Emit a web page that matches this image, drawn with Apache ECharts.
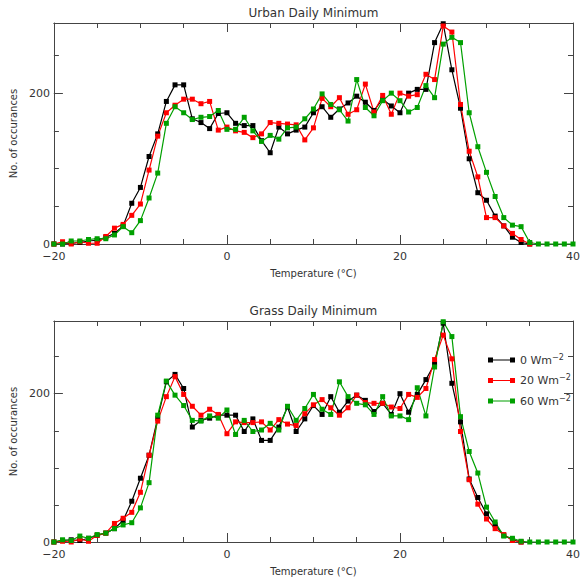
<!DOCTYPE html>
<html>
<head>
<meta charset="utf-8">
<script src="https://cdn.jsdelivr.net/npm/echarts@6/dist/echarts.min.js"></script>
<style>
  html, body { margin: 0; padding: 0; background: #fff; }
  #chart { width: 583px; height: 580px; }
</style>
</head>
<body>
<div id="chart"></div>
<script>
// Temperature bins (°C), one per degree
const temps = [-20, -19, -18, -17, -16, -15, -14, -13, -12, -11, -10, -9, -8, -7, -6, -5, -4, -3, -2, -1,
  0, 1, 2, 3, 4, 5, 6, 7, 8, 9, 10, 11, 12, 13, 14, 15, 16, 17, 18, 19,
  20, 21, 22, 23, 24, 25, 26, 27, 28, 29, 30, 31, 32, 33, 34, 35, 36, 37, 38, 39, 40];

const xTickLabels = ['−20', '0', '20', '40'];
const yTickLabels = ['0', '200'];
const seriesNames = ['0 Wm-2', '20 Wm-2', '60 Wm-2'];
const panelTitles = ['Urban Daily Minimum', 'Grass Daily Minimum'];

// Urban daily minimum counts, starting at -20 °C
const urban0 = [0, 0, 1, 2, 4, 5, 9, 14, 24, 54, 75, 116, 146, 189, 211, 211, 166, 161, 153, 173,
  174, 160, 157, 157, 137, 121, 155, 146, 151, 155, 174, 182, 168, 179, 187, 196, 188, 177, 192, 183,
  174, 200, 205, 205, 267, 292, 231, 180, 113, 68, 58, 37, 24, 9, 2, 0];
const urban20 = [0, 3, 0, 3, 1, 1, 10, 21, 26, 38, 53, 98, 143, 174, 184, 192, 192, 186, 189, 151,
  155, 150, 148, 141, 146, 161, 160, 159, 158, 138, 154, 193, 182, 194, 172, 178, 212, 175, 197, 172,
  200, 196, 198, 225, 218, 289, 281, 185, 123, 89, 35, 35, 24, 14, 6, 0];
const urban60 = [0, 0, 4, 4, 6, 7, 7, 12, 23, 15, 31, 61, 94, 160, 182, 174, 165, 168, 169, 177,
  152, 152, 168, 150, 136, 144, 139, 154, 155, 166, 179, 199, 185, 178, 163, 218, 181, 170, 190, 200,
  190, 175, 181, 210, 194, 265, 274, 267, 174, 129, 95, 63, 35, 25, 23, 2, 0, 0, 0, 0, 0];

// Grass daily minimum counts, starting at -20 °C
const grass0 = [0, 2, 3, 2, 5, 9, 12, 18, 29, 55, 86, 117, 167, 216, 226, 207, 155, 164, 167, 171,
  171, 171, 149, 166, 137, 137, 155, 182, 149, 166, 184, 172, 196, 175, 190, 198, 191, 176, 187, 172,
  200, 175, 199, 219, 240, 295, 214, 162, 85, 60, 38, 23, 9, 3, 0];
const grass20 = [0, 1, 0, 4, 1, 9, 12, 25, 32, 40, 67, 117, 163, 196, 223, 199, 183, 171, 179, 172,
  146, 162, 161, 161, 162, 151, 165, 159, 157, 173, 185, 192, 181, 171, 181, 198, 188, 187, 187, 182,
  180, 199, 195, 207, 246, 279, 247, 149, 84, 51, 31, 18, 10, 2, 0];
const grass60 = [0, 3, 2, 8, 5, 10, 12, 18, 23, 26, 46, 80, 171, 217, 198, 184, 164, 163, 170, 167,
  178, 145, 164, 149, 151, 160, 151, 183, 164, 180, 199, 179, 172, 216, 196, 187, 185, 172, 196, 170,
  170, 165, 208, 170, 236, 297, 277, 169, 122, 93, 47, 27, 8, 5, 1, 0, 0, 0, 0, 0, 0];

const FONT = 'DejaVu Sans';
const TEXT = '#333';
const AXIS = '#444';
const colors = ['#000000', '#ff0000', '#00a000'];

function pairs(values) {
  return values.map((v, i) => [temps[i], v]);
}

function xAxes(grid, title) {
  const common = {
    gridIndex: grid, type: 'value', min: -20, max: 40, interval: 20,
    axisLine: { show: true, onZero: false, lineStyle: { color: AXIS, width: 1 } },
    axisTick: { show: true, inside: true, length: 9, lineStyle: { color: AXIS } },
    minorTick: { show: true, splitNumber: 4, length: 5, lineStyle: { color: AXIS } },
    splitLine: { show: false }
  };
  return [
    Object.assign({}, common, {
      position: 'bottom',
      axisLabel: {
        margin: 7, fontSize: 11, color: TEXT, fontFamily: FONT,
        formatter: v => xTickLabels[Math.round((v + 20) / 20)] || ''
      },
      name: 'Temperature (°C)', nameLocation: 'middle', nameGap: 24,
      nameTextStyle: { fontSize: 10, color: TEXT, fontFamily: FONT }
    }),
    Object.assign({}, common, {
      position: 'top',
      axisLabel: { show: false },
      name: title, nameLocation: 'middle', nameGap: 4,
      nameTextStyle: { fontSize: 12, color: TEXT, fontFamily: FONT }
    })
  ];
}

function yAxes(grid, yMax) {
  const base = { gridIndex: grid, type: 'value', min: 0, max: yMax, splitLine: { show: false } };
  const major = Object.assign({}, base, {
    interval: 200,
    axisTick: { show: true, inside: true, length: 9, lineStyle: { color: AXIS } }
  });
  const minor = Object.assign({}, base, {
    interval: 50,
    axisLine: { show: false, onZero: false },
    axisTick: { show: true, inside: true, length: 5, lineStyle: { color: AXIS } },
    axisLabel: { show: false }
  });
  return [
    Object.assign({}, major, {
      position: 'left',
      axisLine: { show: true, onZero: false, lineStyle: { color: AXIS, width: 1 } },
      axisLabel: {
        margin: 4, fontSize: 11, color: TEXT, fontFamily: FONT,
        formatter: v => (v === 0 ? yTickLabels[0] : (v === 200 ? yTickLabels[1] : ''))
      },
      name: 'No. of occurances', nameLocation: 'middle', nameGap: 31,
      nameTextStyle: { fontSize: 10, color: TEXT, fontFamily: FONT }
    }),
    Object.assign({}, minor, { position: 'left' }),
    Object.assign({}, major, {
      position: 'right',
      axisLine: { show: true, onZero: false, lineStyle: { color: AXIS, width: 1 } },
      axisLabel: { show: false }
    }),
    Object.assign({}, minor, { position: 'right' })
  ];
}

function lineSeries(name, values, color, xi, yi) {
  return {
    name: name, type: 'line', xAxisIndex: xi, yAxisIndex: yi,
    data: pairs(values),
    symbol: 'rect', symbolSize: 5, showAllSymbol: true,
    lineStyle: { color: color, width: 1.2 },
    itemStyle: { color: color },
    emphasis: { disabled: true },
    animation: false
  };
}

const chart = echarts.init(document.getElementById('chart'), null, { renderer: 'svg' });
chart.setOption({
  backgroundColor: '#fff',
  animation: false,
  textStyle: { fontFamily: FONT },
  grid: [
    { left: 53, right: 10, top: 23, height: 221, containLabel: false },
    { left: 53, right: 10, top: 321, height: 221, containLabel: false }
  ],
  xAxis: [].concat(xAxes(0, panelTitles[0]), xAxes(1, panelTitles[1])),
  yAxis: [].concat(yAxes(0, 293), yAxes(1, 298)),
  legend: {
    data: seriesNames, orient: 'vertical', left: 483, top: 348,
    itemWidth: 27, itemHeight: 5, itemGap: 8, selectedMode: false,
    icon: 'path://M0,0h5v5h-5z M22,0h5v5h-5z M0,1.9h27v1.2h-27z',
    formatter: name => '{n|' + name.slice(0, -2) + '}{s|' + name.slice(-2).replace('-', '−') + '}',
    textStyle: {
      rich: {
        n: { fontSize: 11, color: TEXT, fontFamily: FONT, lineHeight: 14 },
        s: { fontSize: 8, color: TEXT, fontFamily: FONT, verticalAlign: 'top', lineHeight: 8 }
      }
    }
  },
  series: [
    lineSeries(seriesNames[0], urban0, colors[0], 0, 0),
    lineSeries(seriesNames[1], urban20, colors[1], 0, 0),
    lineSeries(seriesNames[2], urban60, colors[2], 0, 0),
    lineSeries(seriesNames[0], grass0, colors[0], 2, 4),
    lineSeries(seriesNames[1], grass20, colors[1], 2, 4),
    lineSeries(seriesNames[2], grass60, colors[2], 2, 4)
  ]
});
</script>
</body>
</html>
